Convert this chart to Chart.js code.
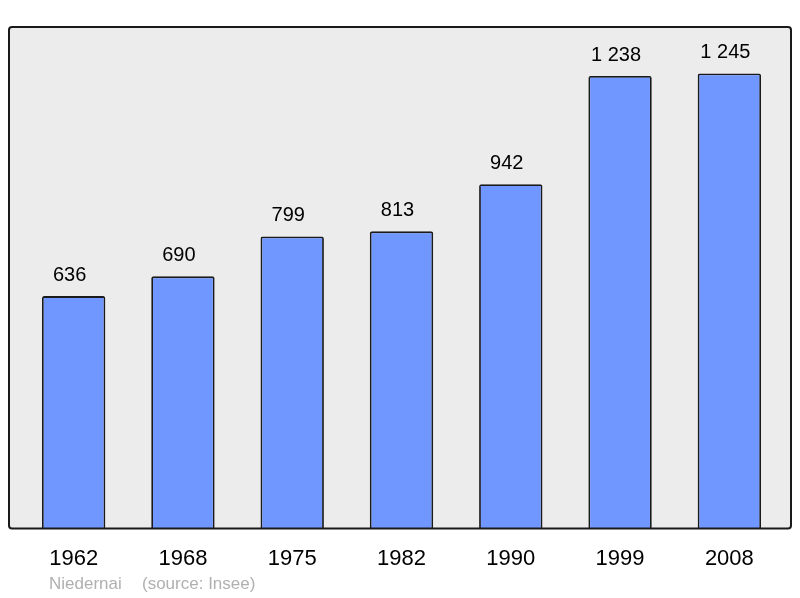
<!DOCTYPE html>
<html>
<head>
<meta charset="utf-8">
<style>
  html, body { margin: 0; padding: 0; background: #fff; }
  #wrap { width: 800px; height: 598px; position: relative; }
</style>
<script src="https://cdn.jsdelivr.net/npm/chart.js@4/dist/chart.umd.min.js"></script>
</head>
<body>
<div id="wrap"><canvas id="chart" width="800" height="598"></canvas></div>
<script>
const years = ["1962", "1968", "1975", "1982", "1990", "1999", "2008"];
const population = [636, 690, 799, 813, 942, 1238, 1245];
const commune = "Niedernai";
const source = "(source: Insee)";

const fmt = (v) => String(v).replace(/\B(?=(\d{3})+(?!\d))/g, " ");

// grey frame behind the bars + footer text
const framePlugin = {
  id: "frame",
  beforeDraw(chart) {
    const { ctx, chartArea: a } = chart;
    const x0 = a.left - 10, x1 = a.right + 7;
    ctx.save();
    ctx.beginPath();
    ctx.roundRect(x0, a.top, x1 - x0, a.bottom - a.top, 3);
    ctx.fillStyle = "#ececec";
    ctx.fill();
    ctx.restore();
  },
  afterDraw(chart) {
    const { ctx, chartArea: a } = chart;
    const x0 = a.left - 10, x1 = a.right + 7;
    ctx.save();
    ctx.beginPath();
    ctx.roundRect(x0, a.top, x1 - x0, a.bottom - a.top, 3);
    ctx.lineWidth = 2;
    ctx.strokeStyle = "#1a1a1a";
    ctx.stroke();
    ctx.font = "17px 'Liberation Sans', Arial, sans-serif";
    ctx.fillStyle = "#b0b0b0";
    ctx.textBaseline = "middle";
    ctx.fillText(commune, 49, 584);
    ctx.fillText(source, 142, 584);
    ctx.restore();
  },
  afterDatasetsDraw(chart) {
    const { ctx } = chart;
    const meta = chart.getDatasetMeta(0);
    ctx.save();
    ctx.font = "20px 'Liberation Sans', Arial, sans-serif";
    ctx.fillStyle = "#000";
    ctx.textAlign = "center";
    ctx.textBaseline = "alphabetic";
    meta.data.forEach((bar, i) => {
      ctx.fillText(fmt(population[i]), bar.x - 4, bar.y - 15);
    });
    ctx.restore();
  }
};

new Chart(document.getElementById("chart"), {
  type: "bar",
  data: {
    labels: years,
    datasets: [{
      data: population,
      backgroundColor: "#7096ff",
      borderColor: "#1a1a1a",
      borderWidth: 1.8,
      borderRadius: 2,
      borderSkipped: "bottom",
      barPercentage: 0.58,
      categoryPercentage: 1
    }]
  },
  options: {
    responsive: false,
    animation: false,
    layout: { padding: { left: 19, right: 16, top: 27, bottom: 17 } },
    plugins: { legend: { display: false }, tooltip: { enabled: false } },
    scales: {
      x: {
        grid: { display: false },
        border: { display: false },
        ticks: {
          color: "#000",
          padding: 9,
          font: { family: "'Liberation Sans', Arial, sans-serif", size: 22 }
        }
      },
      y: {
        display: false,
        min: 0,
        max: 1372
      }
    }
  },
  plugins: [framePlugin]
});
</script>
</body>
</html>
